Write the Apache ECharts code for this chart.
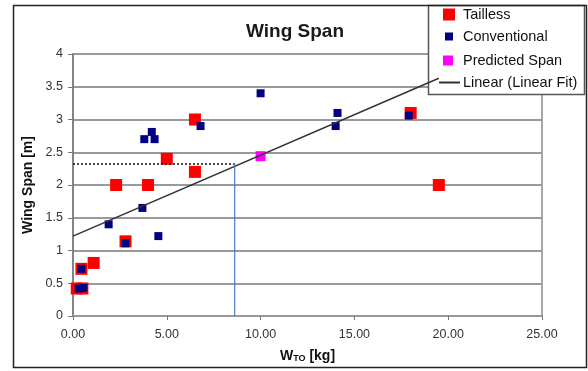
<!DOCTYPE html>
<html>
<head>
<meta charset="utf-8">
<script src="https://cdn.jsdelivr.net/npm/echarts@6/dist/echarts.min.js"></script>
<style>
  html, body { margin: 0; padding: 0; background: #fff; }
  #chart { width: 588px; height: 371px; }
</style>
</head>
<body>
<div id="chart"></div>
<script>
// Data: [W_TO kg, wing span m]
const tailless = [
  [0.2, 0.42], [0.5, 0.42], [0.45, 0.72], [1.1, 0.81], [2.8, 1.14],
  [2.3, 2.0], [4.0, 2.0], [5.0, 2.4], [6.5, 2.2], [6.5, 3.0],
  [18.0, 3.1], [19.5, 2.0]
]
const conventional = [
  [0.3, 0.42], [0.55, 0.43], [0.45, 0.72], [1.9, 1.4], [2.8, 1.11],
  [3.7, 1.65], [4.55, 1.22], [3.8, 2.7], [4.2, 2.81], [4.35, 2.7],
  [6.8, 2.9], [10.0, 3.4], [14.0, 2.9], [14.1, 3.1], [17.9, 3.06]
]
const predicted = [[10.0, 2.44]]
const linearFit = [[0, 1.22], [19.5, 3.63]]
// guide lines to the read-off point
const guideH = [[0, 2.32], [8.62, 2.32]]
const guideV = [[8.62, 2.32], [8.62, 0]]

const xTicks = { min: 0, max: 25, interval: 5 }
const yTicks = { min: 0, max: 4, interval: 0.5 }

const font = "'Liberation Sans', Arial, sans-serif"
const chart = echarts.init(document.getElementById('chart'))

const legendBase = {
  orient: 'vertical',
  padding: 0,
  z: 10,
  selectedMode: false,
  textStyle: { fontFamily: font, fontSize: 14.5, color: '#111', lineHeight: 15 },
}

chart.setOption({
  animation: false,
  title: {
    text: 'Wing Span',
    left: 290,
    top: 17,
    textAlign: 'center',
    textStyle: { fontFamily: font, fontSize: 19, fontWeight: 'bold', color: '#1a1a1a' },
  },
  legend: [
    { ...legendBase, data: ['Tailless'], left: 443, top: 7, itemWidth: 12, itemHeight: 12,
      textStyle: { ...legendBase.textStyle, padding: [0, 0, 0, 3] } },
    { ...legendBase, data: ['Conventional'], left: 445, top: 29, itemWidth: 8, itemHeight: 8,
      textStyle: { ...legendBase.textStyle, padding: [0, 0, 0, 5] } },
    { ...legendBase, data: ['Predicted Span'], left: 443, top: 53, itemWidth: 10, itemHeight: 10,
      textStyle: { ...legendBase.textStyle, padding: [0, 0, 0, 5] } },
    { ...legendBase, data: [{ name: 'Linear (Linear Fit)', icon: 'rect' }],
      left: 439, top: 75, itemWidth: 21, itemHeight: 2,
      textStyle: { ...legendBase.textStyle, padding: [0, 0, 0, -2] } },
  ],
  graphic: [
    {
      type: 'rect', z: 3,
      shape: { x: 428.5, y: 5.5, width: 156, height: 89 },
      style: { fill: '#fff', stroke: '#555', lineWidth: 1.5 },
    },
    {
      type: 'rect', z: 20,
      shape: { x: 13.5, y: 5.5, width: 573, height: 362 },
      style: { fill: 'none', stroke: '#222', lineWidth: 1.5 },
    },
  ],
  grid: {
    left: 73, right: 46, top: 54, bottom: 55,
    show: true, borderColor: '#a8a8a8', borderWidth: 2,
  },
  xAxis: {
    type: 'value',
    ...xTicks,
    name: '{w|W}{s|TO}{w| [kg]}',
    nameLocation: 'middle',
    nameGap: 33,
    nameTextStyle: {
      rich: {
        w: { fontFamily: font, fontSize: 14, fontWeight: 'bold', color: '#111' },
        s: { fontFamily: font, fontSize: 9, fontWeight: 'bold', color: '#111', verticalAlign: 'bottom' },
      },
    },
    axisLine: { lineStyle: { color: '#999', width: 2 } },
    axisTick: { show: true, length: 4, lineStyle: { color: '#777' } },
    splitLine: { show: false },
    axisLabel: {
      margin: 12,
      fontFamily: font, fontSize: 12.5, color: '#333',
      formatter: (v) => v.toFixed(2),
    },
  },
  yAxis: {
    type: 'value',
    ...yTicks,
    name: 'Wing Span [m]',
    nameLocation: 'middle',
    nameGap: 38,
    nameTextStyle: { fontFamily: font, fontSize: 14, fontWeight: 'bold', color: '#111' },
    axisLine: { show: true, lineStyle: { color: '#777', width: 1.5 } },
    axisTick: { show: true, length: 5, lineStyle: { color: '#777' } },
    splitLine: { lineStyle: { color: '#9a9a9a', width: 2 } },
    axisLabel: { margin: 10, fontFamily: font, fontSize: 12.5, color: '#333' },
  },
  series: [
    {
      name: 'Tailless', type: 'scatter', data: tailless,
      symbol: 'rect', symbolSize: 12, itemStyle: { color: '#ff0000', opacity: 1 },
    },
    {
      name: 'Conventional', type: 'scatter', data: conventional,
      symbol: 'rect', symbolSize: 8, itemStyle: { color: '#000080', opacity: 1 },
    },
    {
      name: 'Predicted Span', type: 'scatter', data: predicted,
      symbol: 'rect', symbolSize: 10, itemStyle: { color: '#ff00ff', opacity: 1 },
    },
    {
      name: 'Linear (Linear Fit)', type: 'line', data: linearFit,
      symbol: 'none', itemStyle: { color: '#333' }, lineStyle: { color: '#333', width: 1.5 },
    },
    {
      name: 'guideH', type: 'line', data: guideH, symbol: 'none',
      lineStyle: { color: '#111', width: 1.5, type: [2, 2] },
    },
    {
      name: 'guideV', type: 'line', data: guideV, symbol: 'none',
      lineStyle: { color: '#4a7cc4', width: 1.2 },
    },
  ],
})
</script>
</body>
</html>
